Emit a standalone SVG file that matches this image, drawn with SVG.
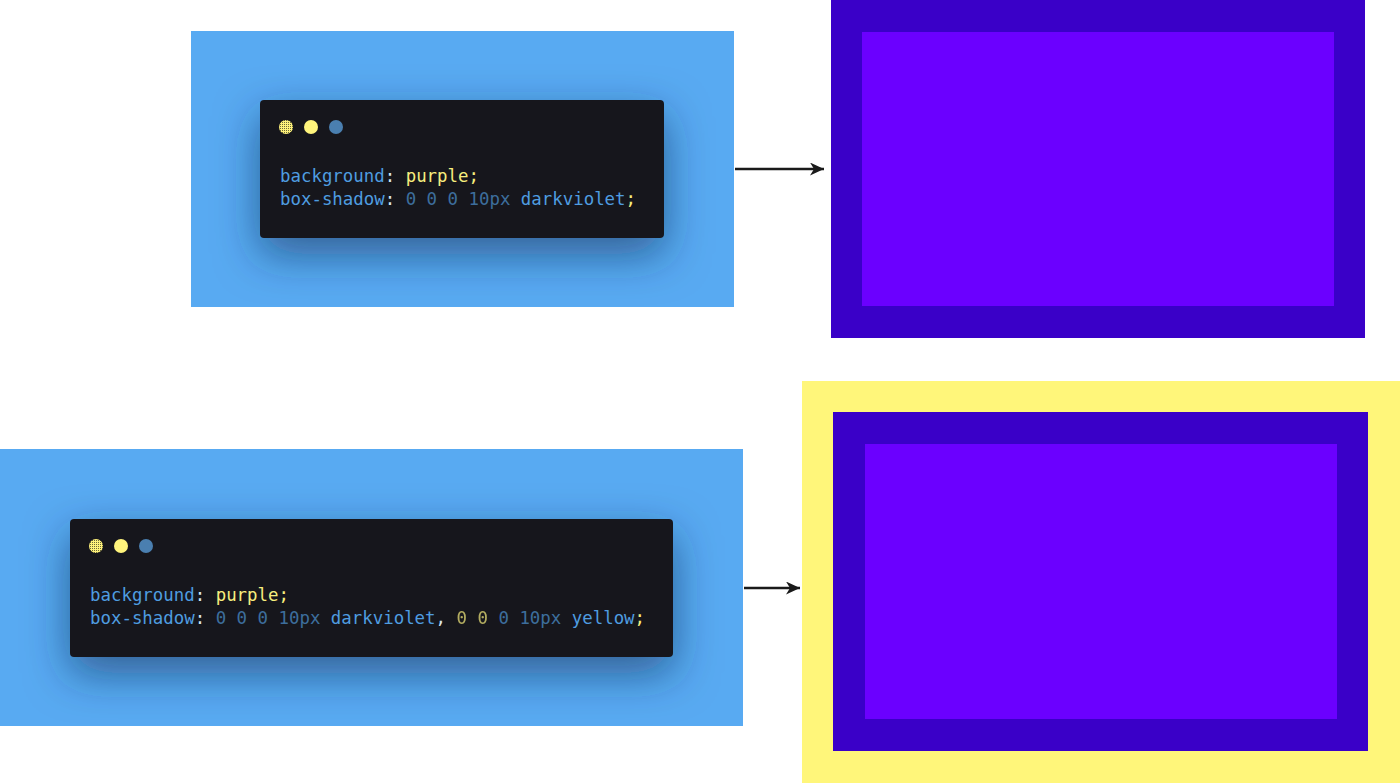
<svg xmlns="http://www.w3.org/2000/svg" width="1400" height="783" viewBox="0 0 1400 783">
<style>
.panel{fill:#58aaf2}
.card{fill:#17181c}
.code{font-family:"DejaVu Sans Mono","Liberation Mono",monospace;font-size:17.4px}
.k{fill:#4f9de0}
.y{fill:#f7ee7e}
.n{fill:#3d6e9c}
.w{fill:#d8e4ee}
.conn{stroke:#1a1a1a;stroke-width:2.5;fill:none}
</style>
<defs>
<filter id="sh" x="-40%" y="-60%" width="180%" height="230%">
<feDropShadow dx="0" dy="16" stdDeviation="22" flood-color="#0b2a55" flood-opacity="0.6"/>
</filter>
<pattern id="dith" width="2" height="2" patternUnits="userSpaceOnUse">
<rect width="2" height="2" fill="#fff27a"/>
<rect width="1" height="1" fill="#6b6a3a"/>
</pattern>
<marker id="ah" markerWidth="14" markerHeight="13" refX="14" refY="6.5" orient="auto" markerUnits="userSpaceOnUse" viewBox="0 0 14 13">
<path d="M0,0 L14,6.5 L0,13 L4,6.5 Z" fill="#1a1a1a"/>
</marker>
</defs>

<g id="code1">
<rect class="panel" x="191" y="31" width="543" height="276"/>
<rect class="card" x="260" y="100" width="404" height="138" rx="4" filter="url(#sh)"/>
<circle cx="286" cy="127" r="7" fill="url(#dith)"/>
<circle cx="311" cy="127" r="7" fill="#fff47c"/>
<circle cx="336" cy="127" r="7" fill="#4a7fb0"/>
<text class="code" x="280" y="182"><tspan class="k">background</tspan><tspan class="w">:</tspan> <tspan class="y">purple;</tspan></text>
<text class="code" x="280" y="205"><tspan class="k">box-shadow</tspan><tspan class="w">:</tspan> <tspan class="n">0 0 0 10px</tspan> <tspan class="k">darkviolet</tspan><tspan class="y">;</tspan></text>
</g>

<g id="result1">
<rect x="831" y="0" width="534" height="338" fill="#3a00c8"/>
<rect x="862" y="32" width="472" height="274" fill="#6b00ff"/>
</g>

<g id="code2">
<rect class="panel" x="0" y="449" width="743" height="277"/>
<rect class="card" x="70" y="519" width="603" height="138" rx="4" filter="url(#sh)"/>
<circle cx="96" cy="546" r="7" fill="url(#dith)"/>
<circle cx="121" cy="546" r="7" fill="#fff47c"/>
<circle cx="146" cy="546" r="7" fill="#4a7fb0"/>
<text class="code" x="90" y="601"><tspan class="k">background</tspan><tspan class="w">:</tspan> <tspan class="y">purple;</tspan></text>
<text class="code" x="90" y="624"><tspan class="k">box-shadow</tspan><tspan class="w">:</tspan> <tspan class="n">0 0 0 10px</tspan> <tspan class="k">darkviolet</tspan><tspan class="w">,</tspan> <tspan class="y" opacity="0.7">0 0</tspan> <tspan class="n">0 10px</tspan> <tspan class="k">yellow</tspan><tspan class="y">;</tspan></text>
</g>

<g id="result2">
<rect x="802" y="381" width="598" height="402" fill="#fff67a"/>
<rect x="833" y="412" width="535" height="339" fill="#3a00c8"/>
<rect x="865" y="444" width="472" height="275" fill="#6b00ff"/>
</g>

<g id="connectors">
<line class="conn" x1="735" y1="169" x2="824" y2="169" marker-end="url(#ah)"/>
<line class="conn" x1="744" y1="588" x2="800" y2="588" marker-end="url(#ah)"/>
</g>
</svg>
